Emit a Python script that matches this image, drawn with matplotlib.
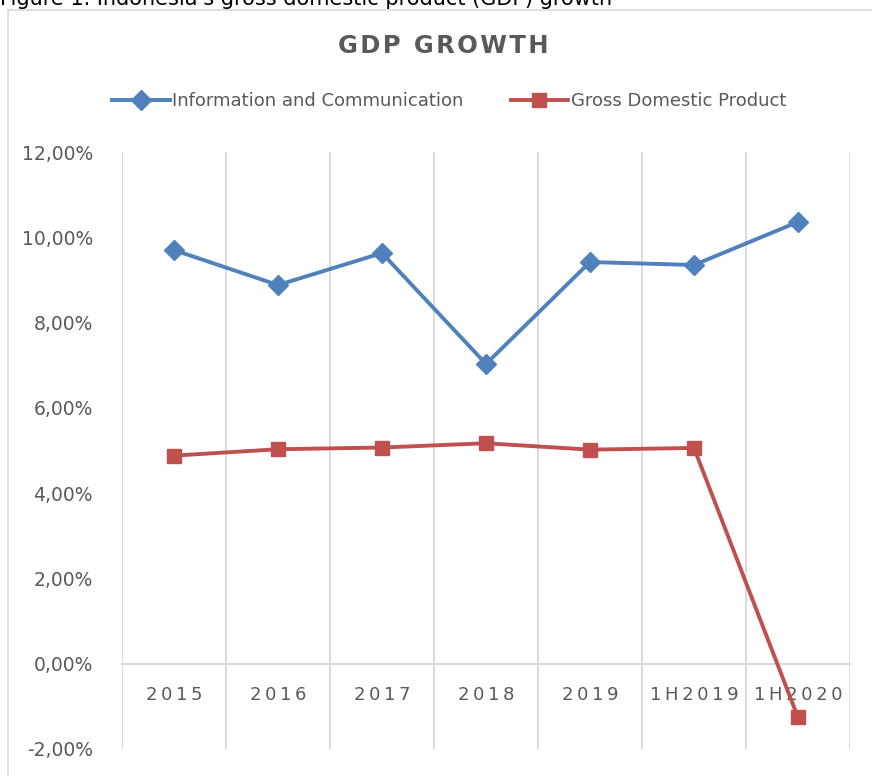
import matplotlib.pyplot as plt
from matplotlib.patches import Rectangle

# Data
categories = ['2015', '2016', '2017', '2018', '2019', '1H2019', '1H2020']
info_comm = [9.70, 8.88, 9.63, 7.03, 9.42, 9.35, 10.36]
gdp = [4.88, 5.03, 5.07, 5.17, 5.02, 5.06, -1.26]
y_ticks = [-2, 0, 2, 4, 6, 8, 10, 12]

BLUE = '#4F81BD'
RED = '#C0504D'
GREY_TXT = '#595959'
GRID = '#D9D9D9'

plt.rcParams['font.family'] = ['DejaVu Sans']

fig = plt.figure(figsize=(8.72, 7.76), dpi=100)

# outer chart border (runs off right/bottom like the crop)
fig.patches.append(Rectangle((8 / 872, -0.05), 1.1, 1.05 - 10 / 776,
                             transform=fig.transFigure, fill=False,
                             edgecolor='#D9D9D9', linewidth=1.2))

# caption partly cut off at the top, as in the source crop
fig.text(0.0, 1 - 5 / 776, "Figure 1. Indonesia's gross domestic product (GDP) growth",
         fontsize=15, color='black', va='baseline', ha='left')

ax = fig.add_axes([122 / 872, 1 - 749 / 776, (850 - 122) / 872, (749 - 152) / 776])

x = list(range(len(categories)))
ax.plot(x, info_comm, color=BLUE, linewidth=2.8, marker='D', markersize=10,
        label='Information and Communication', clip_on=False, zorder=3)
ax.plot(x, gdp, color=RED, linewidth=2.8, marker='s', markersize=10,
        label='Gross Domestic Product', clip_on=False, zorder=3)

ax.set_xlim(-0.5, len(categories) - 0.5)
ax.set_ylim(-2, 12)

# vertical gridlines between categories
for b in [i - 0.5 for i in range(len(categories) + 1)]:
    ax.axvline(b, color=GRID, linewidth=1.3, zorder=1)

for s in ['top', 'right', 'left']:
    ax.spines[s].set_visible(False)
ax.spines['bottom'].set_position(('data', 0))
ax.spines['bottom'].set_color(GRID)
ax.spines['bottom'].set_linewidth(1.5)
ax.spines['bottom'].set_zorder(1)

ax.set_xticks(x)
ax.set_xticklabels(['\u2009'.join(c) for c in categories])
ax.tick_params(axis='x', length=0, pad=16, labelsize=13, labelcolor=GREY_TXT)

ax.set_yticks(y_ticks)
ax.set_yticklabels([f'{v:.2f}%'.replace('.', ',') for v in y_ticks])
ax.tick_params(axis='y', length=0, pad=21, labelsize=13.5, labelcolor=GREY_TXT)

fig.text(0.508, 1 - 46 / 776, '\u200a'.join('GDP GROWTH'), fontsize=17.5,
         fontweight='bold', color=GREY_TXT, ha='center', va='center')

fig.legend(loc='center', bbox_to_anchor=(0.515, 1 - 101 / 776), ncol=2,
           frameon=False, fontsize=13, handlelength=3.2, handletextpad=0.15,
           columnspacing=2.6, labelcolor=GREY_TXT)

fig.savefig('out.png', dpi=100)
